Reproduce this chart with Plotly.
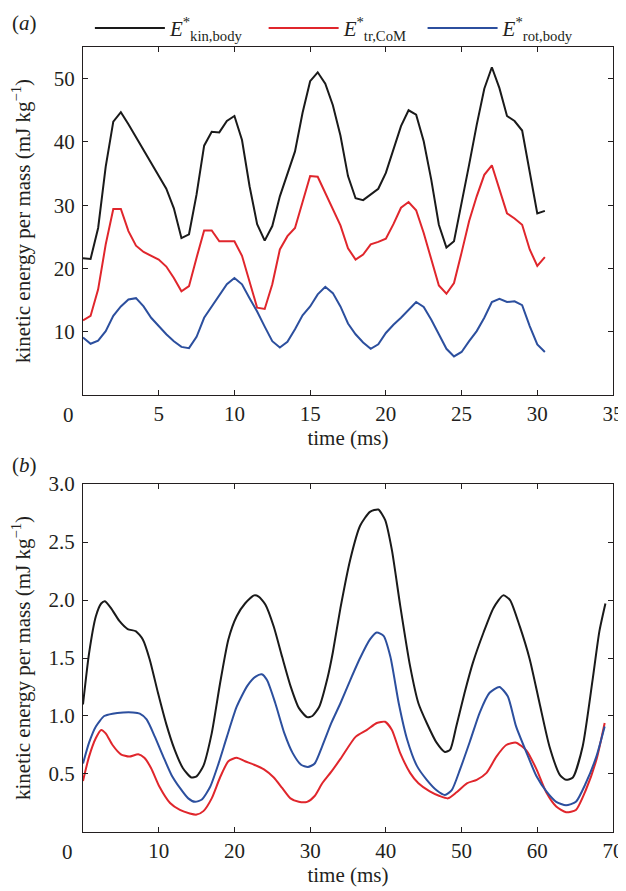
import plotly.graph_objects as go

# (a) sampled every 0.5 ms
t_a = [i * 0.5 for i in range(62)]
kin_a = [21.6, 21.5, 26.4, 36.1, 43.2, 44.7, 42.8, 40.8, 38.8, 36.8, 34.8, 32.6, 29.5, 24.8, 25.4, 31.7,
         39.4, 41.6, 41.5, 43.3, 44.1, 40.3, 33.0, 27.0, 24.4, 26.7, 31.4, 35.1, 38.5, 44.6, 49.6, 51.0,
         49.2, 45.8, 41.0, 34.6, 31.1, 30.8, 31.7, 32.6, 35.1, 38.8, 42.5, 45.0, 44.3, 40.1, 34.0, 26.9,
         23.3, 24.3, 30.1, 36.4, 42.7, 48.4, 51.8, 48.5, 44.1, 43.3, 41.8, 35.1, 28.7, 29.1]
tr_a = [11.8, 12.5, 16.7, 23.8, 29.4, 29.4, 25.9, 23.6, 22.6, 22.0, 21.4, 20.3, 18.5, 16.4, 17.2, 21.7,
        26.0, 26.0, 24.3, 24.3, 24.3, 22.0, 18.0, 13.8, 13.6, 17.5, 23.0, 25.1, 26.4, 30.4, 34.6, 34.5,
        31.9, 29.5, 26.8, 23.2, 21.4, 22.2, 23.8, 24.2, 24.7, 27.0, 29.6, 30.5, 29.2, 25.6, 21.4, 17.3,
        16.0, 17.7, 22.5, 27.5, 31.4, 34.8, 36.3, 32.5, 28.7, 27.9, 26.9, 23.0, 20.4, 21.8]
rot_a = [9.1, 8.1, 8.6, 10.1, 12.5, 14.0, 15.1, 15.3, 14.0, 12.2, 10.9, 9.6, 8.5, 7.6, 7.4, 9.2,
         12.2, 14.0, 15.6, 17.5, 18.5, 17.5, 15.3, 13.2, 10.8, 8.5, 7.5, 8.4, 10.4, 12.6, 14.0, 15.9,
         17.1, 16.1, 14.0, 11.3, 9.6, 8.3, 7.3, 8.0, 9.8, 11.1, 12.2, 13.5, 14.7, 13.9, 11.9, 9.6,
         7.3, 6.1, 6.8, 8.5, 10.1, 12.2, 14.7, 15.2, 14.7, 14.8, 14.2, 10.9, 8.0, 6.8]

t_kin_b = [0, 0.8, 1.7, 2.4, 2.9, 3.7, 4.8, 5.9, 7.0, 7.9, 8.8, 9.9, 11.0, 12.1, 13.2, 14.3, 15.0, 15.9,
           17.0, 18.1, 19.2, 20.3, 21.4, 22.6, 23.2, 24.1, 25.2, 26.3, 27.4, 28.5, 29.6, 30.3, 31.2,
           32.3, 33.0, 34.0, 35.3, 36.6, 37.9, 39.0, 39.9, 40.8, 41.9, 43.2, 44.3, 45.4, 46.7, 47.8,
           48.5, 49.3, 50.4, 51.5, 52.9, 54.2, 55.5, 56.4, 57.7, 59.0, 60.3, 61.6, 63.0, 63.8, 64.7,
           66.0, 67.3, 68.2, 69.0]
kin_b = [1.10, 1.54, 1.86, 1.97, 1.99, 1.93, 1.82, 1.75, 1.73, 1.66, 1.49, 1.20, 0.93, 0.71, 0.55, 0.47,
         0.48, 0.57, 0.85, 1.28, 1.66, 1.86, 1.97, 2.04, 2.03, 1.96, 1.77, 1.51, 1.26, 1.07, 0.99, 1.00,
         1.08, 1.33, 1.55, 1.93, 2.35, 2.64, 2.76, 2.78, 2.69, 2.43, 1.95, 1.43, 1.11, 0.94, 0.77, 0.69,
         0.71, 0.91, 1.20, 1.46, 1.72, 1.93, 2.04, 2.00, 1.77, 1.49, 1.11, 0.74, 0.49, 0.45, 0.47,
         0.74, 1.31, 1.73, 1.97]

t_tr_b = [0, 0.8, 1.7, 2.4, 3.0, 3.9, 5.0, 6.1, 7.3, 8.1, 9.0, 10.1, 11.5, 12.8, 14.1, 15.0, 15.9, 17.0,
          18.1, 19.2, 20.3, 21.4, 22.6, 23.9, 25.2, 26.3, 27.4, 28.5, 29.6, 30.6, 31.6, 32.8, 34.0,
          36.0, 37.5, 38.8, 39.9, 40.8, 41.9, 43.2, 44.3, 45.8, 47.1, 48.2, 49.3, 50.7, 52.0, 53.3,
          54.6, 55.9, 57.2, 58.6, 59.9, 61.2, 62.5, 63.8, 65.1, 66.4, 67.8, 68.9]
tr_b = [0.44, 0.65, 0.81, 0.88, 0.85, 0.75, 0.67, 0.65, 0.67, 0.64, 0.55, 0.39, 0.25, 0.19, 0.16, 0.15,
        0.18, 0.29, 0.47, 0.61, 0.64, 0.61, 0.58, 0.54, 0.47, 0.38, 0.29, 0.26, 0.26, 0.31, 0.42, 0.52,
        0.63, 0.82, 0.88, 0.94, 0.95, 0.88, 0.68, 0.51, 0.42, 0.35, 0.31, 0.29, 0.34, 0.42, 0.45, 0.51,
        0.65, 0.75, 0.77, 0.70, 0.54, 0.34, 0.22, 0.17, 0.19, 0.36, 0.62, 0.94]

t_rot_b = [0, 0.8, 1.7, 2.8, 3.9, 5.3, 6.6, 7.5, 8.4, 9.5, 10.6, 11.7, 12.8, 13.9, 14.8, 15.7, 16.8,
           17.9, 19.0, 20.3, 21.7, 22.8, 23.6, 24.3, 25.4, 26.6, 27.7, 28.8, 29.7, 30.6, 31.6, 32.8,
           34.0, 35.3, 36.6, 37.9, 38.8, 39.7, 40.6, 41.7, 42.8, 44.1, 45.4, 46.7, 47.8, 48.7, 49.8,
           51.1, 52.4, 53.7, 55.0, 56.1, 57.2, 58.6, 59.9, 61.2, 62.5, 63.8, 65.1, 66.4, 67.8, 68.9]
rot_b = [0.59, 0.77, 0.91, 1.00, 1.02, 1.03, 1.03, 1.02, 0.97, 0.82, 0.65, 0.49, 0.38, 0.29, 0.26, 0.28,
         0.39, 0.59, 0.82, 1.08, 1.26, 1.34, 1.36, 1.31, 1.11, 0.85, 0.68, 0.58, 0.56, 0.59, 0.74, 0.94,
         1.11, 1.31, 1.50, 1.66, 1.72, 1.69, 1.51, 1.11, 0.80, 0.57, 0.45, 0.36, 0.32, 0.36, 0.54,
         0.78, 1.03, 1.20, 1.25, 1.17, 0.91, 0.68, 0.48, 0.35, 0.26, 0.23, 0.26, 0.42, 0.65, 0.91]

# trailing nbsp's widen the gaps between legend entries like the original
names = ["<i>E</i><sup>*</sup><sub>kin,body</sub>&nbsp;&nbsp;&nbsp;",
         "<i>E</i><sup>*</sup><sub>tr,CoM</sub>&nbsp;&nbsp;",
         "<i>E</i><sup>*</sup><sub>rot,body</sub>"]
colors = ["#1a1a1a", "#e0262c", "#2c4f9e"]

FONT = "Liberation Serif, DejaVu Serif, serif"
INK = "#231f20"

fig = go.Figure()

for name, col, ys in zip(names, colors, [kin_a, tr_a, rot_a]):
    fig.add_trace(go.Scatter(x=t_a, y=ys, mode="lines", name=name,
                             line=dict(color=col, width=2), xaxis="x", yaxis="y"))

for col, xs, ys in zip(colors, [t_kin_b, t_tr_b, t_rot_b], [kin_b, tr_b, rot_b]):
    fig.add_trace(go.Scatter(x=xs, y=ys, mode="lines", showlegend=False,
                             line=dict(color=col, width=2, shape="spline", smoothing=0.6),
                             xaxis="x2", yaxis="y2"))

axis_common = dict(
    showline=True, linecolor=INK, linewidth=1, mirror="ticks",
    ticks="inside", ticklen=5, tickcolor=INK, tickwidth=1,
    showgrid=False, zeroline=False,
    tickfont=dict(family=FONT, size=21, color=INK),
    title_font=dict(family=FONT, size=21, color=INK),
)

ylabel = "kinetic energy per mass (mJ kg<sup>\u22121</sup>)"

# page body has an 8 px margin, so the figure is drawn 8 px smaller and offset
fig.update_layout(
    width=618, height=883,
    margin=dict(l=75, r=13, t=39, b=59, autoexpand=False),
    plot_bgcolor="white", paper_bgcolor="white",
    font=dict(family=FONT, size=21, color=INK),
    xaxis=dict(axis_common, domain=[0, 1], anchor="y", range=[0, 35],
               tickvals=[0, 5, 10, 15, 20, 25, 30, 35],
               ticktext=["", "5", "10", "15", "20", "25", "30", "35"],
               title=dict(text="time (ms)", standoff=0)),
    yaxis=dict(axis_common, domain=[0.5567, 1], anchor="x", range=[0, 55],
               tickvals=[10, 20, 30, 40, 50],
               title=dict(text=ylabel, standoff=18), ticklabelstandoff=3),
    xaxis2=dict(axis_common, domain=[0, 1], anchor="y2", range=[0, 70],
                tickvals=[0, 10, 20, 30, 40, 50, 60, 70],
                ticktext=["", "10", "20", "30", "40", "50", "60", "70"],
                title=dict(text="time (ms)", standoff=0)),
    yaxis2=dict(axis_common, domain=[0, 0.4433], anchor="x2", range=[0, 3],
                tickvals=[0.5, 1.0, 1.5, 2.0, 2.5, 3.0], tickformat=".1f",
                title=dict(text=ylabel, standoff=18), ticklabelstandoff=3),
    legend=dict(orientation="h", x=0.013, xanchor="left", y=1.05, yanchor="top",
                font=dict(family=FONT, size=21, color=INK),
                itemwidth=70, bgcolor="rgba(0,0,0,0)"),
    showlegend=True,
)

# the "0" time labels sit a little left of the axis corner in the original
fig.add_annotation(x=0, y=0, xref="x", yref="y", text="0", showarrow=False,
                   yanchor="top", xshift=-15, yshift=-6,
                   font=dict(family=FONT, size=21, color=INK))
fig.add_annotation(x=0, y=0, xref="x2", yref="y2", text="0", showarrow=False,
                   yanchor="top", xshift=-16, yshift=-6,
                   font=dict(family=FONT, size=21, color=INK))

# panel letters
fig.add_annotation(x=-0.138, y=1.031, xref="paper", yref="paper", text="(<i>a</i>)",
                   showarrow=False, xanchor="left", yanchor="middle",
                   font=dict(family=FONT, size=21, color=INK))
fig.add_annotation(x=-0.138, y=0.467, xref="paper", yref="paper", text="(<i>b</i>)",
                   showarrow=False, xanchor="left", yanchor="middle",
                   font=dict(family=FONT, size=21, color=INK))

fig.write_html("out.html")
